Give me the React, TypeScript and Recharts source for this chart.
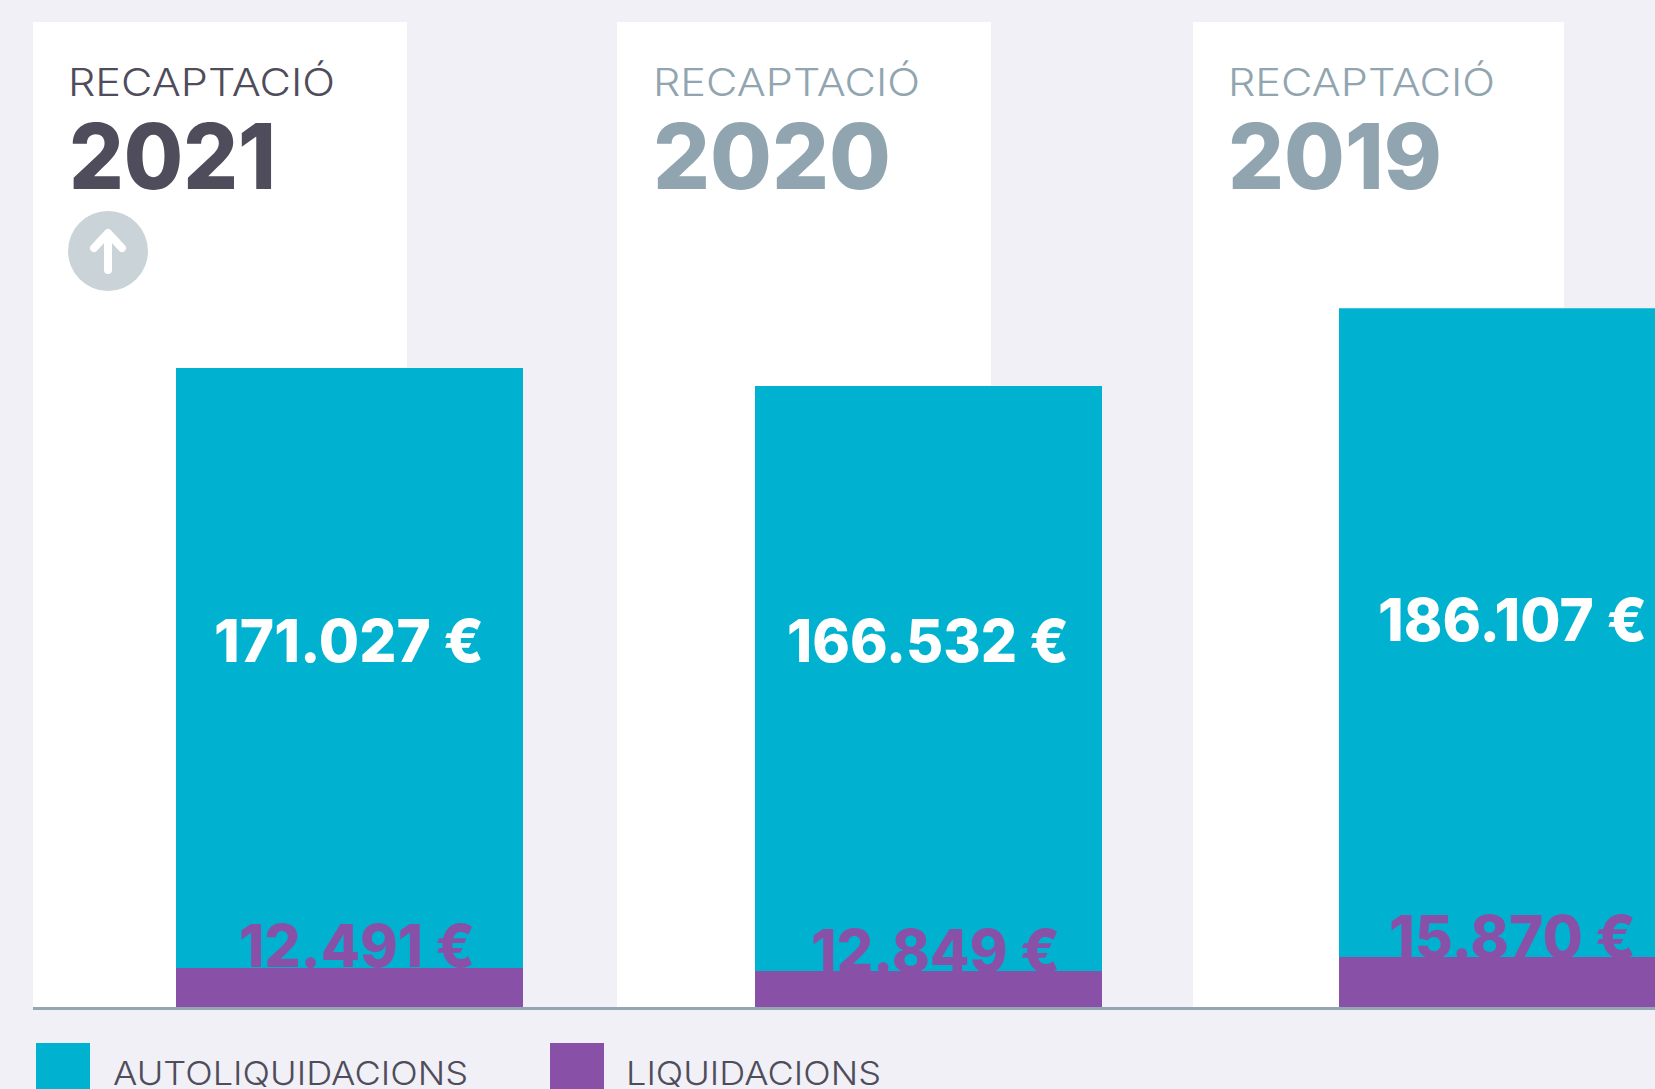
import { BarChart, Bar, XAxis, YAxis, LabelList } from "recharts"

const years = ["2021", "2020", "2019"]
// bar lengths; the printed figures don't quite follow them
const autoliquidacions = [170600, 165800, 186600]
const liquidacions = [10400, 9600, 13350]
const autoLabels = ["171.027 €", "166.532 €", "186.107 €"]
const liqLabels = ["12.491 €", "12.849 €", "15.870 €"]
const legendNames = ["AUTOLIQUIDACIONS", "LIQUIDACIONS"]
const panelTitle = "RECAPTACIÓ"

const BG = "#f0f0f6"
const CYAN = "#00b2cf"
const PURPLE = "#8950a8"
const DARK = "#4f4c5b"
const GREY = "#91a5b1"
const FONT = "Inter, sans-serif"

const CHART_TOP = 258
const CHART_H = 749
const BAR_W = 347

// pixel layout for each year block
const layout = [
  { panelX: 33, panelW: 374, barX: 176, titleX: 68, yearX: 69, yearW: 207, autoX: 214, autoW: 270, autoBase: 662, liqX: 239, liqW: 236, liqBase: 967 },
  { panelX: 617, panelW: 374, barX: 755, titleX: 653, yearX: 653, yearW: 238, autoX: 787, autoW: 282, autoBase: 662, liqX: 811, liqW: 249, liqBase: 972 },
  { panelX: 1193, panelW: 371, barX: 1339, titleX: 1228, yearX: 1228, yearW: 214, autoX: 1378, autoW: 269, autoBase: 641, liqX: 1389, liqW: 247, liqBase: 958 },
]

function YearChart({ index }: { index: number }) {
  const l = layout[index]
  const data = [{ year: years[index], auto: autoliquidacions[index], liq: liquidacions[index] }]

  const autoLabel = () => (
    <text
      x={l.autoX - l.barX}
      y={l.autoBase - CHART_TOP}
      fill="#fff"
      fontFamily={FONT}
      fontWeight={800}
      fontSize={59}
      textLength={l.autoW}
      lengthAdjust="spacingAndGlyphs"
    >
      {autoLabels[index]}
    </text>
  )

  const liqLabel = () => (
    <text
      x={l.liqX - l.barX}
      y={l.liqBase - CHART_TOP}
      fill={PURPLE}
      fontFamily={FONT}
      fontWeight={800}
      fontSize={59}
      textLength={l.liqW}
      lengthAdjust="spacingAndGlyphs"
    >
      {liqLabels[index]}
    </text>
  )

  return (
    <div style={{ position: "absolute", left: l.barX, top: CHART_TOP }}>
      <BarChart
        width={BAR_W}
        height={CHART_H}
        data={data}
        margin={{ top: 0, right: 0, bottom: 0, left: 0 }}
        barCategoryGap={0}
      >
        {/* one x axis per series so the two bars sit on top of each other */}
        <XAxis xAxisId="a" dataKey="year" hide />
        <XAxis xAxisId="b" dataKey="year" hide />
        <YAxis hide domain={[0, 200000]} />
        <Bar xAxisId="a" dataKey="auto" fill={CYAN} isAnimationActive={false}>
          <LabelList dataKey="auto" content={autoLabel} />
        </Bar>
        <Bar xAxisId="b" dataKey="liq" fill={PURPLE} isAnimationActive={false}>
          <LabelList dataKey="liq" content={liqLabel} />
        </Bar>
      </BarChart>
    </div>
  )
}

export default function App() {
  return (
    <div
      style={{
        position: "absolute",
        left: 0,
        top: 0,
        width: 1655,
        height: 1089,
        overflow: "hidden",
        background: BG,
      }}
    >
      {/* white panels */}
      {layout.map((l, i) => (
        <div
          key={i}
          style={{ position: "absolute", left: l.panelX, top: 22, width: l.panelW, height: 985, background: "#fff" }}
        />
      ))}

      {/* titles, arrow badge, legend */}
      <svg width={1655} height={1089} style={{ position: "absolute", left: 0, top: 0 }}>
        {layout.map((l, i) => {
          const color = i === 0 ? DARK : GREY
          return (
            <g key={i} fill={color} fontFamily={FONT}>
              <text x={l.titleX} y={96} fontSize={38} fontWeight={300} textLength={267} lengthAdjust="spacingAndGlyphs">
                {panelTitle}
              </text>
              <text x={l.yearX} y={189} fontSize={91} fontWeight={800} textLength={l.yearW} lengthAdjust="spacingAndGlyphs">
                {years[i]}
              </text>
            </g>
          )
        })}
        <circle cx={108} cy={251} r={40} fill="#c9d3d8" />
        <path
          d="M108 270 L108 234 M94 248 L108 233 L122 248"
          fill="none"
          stroke="#fff"
          strokeWidth={8}
          strokeLinecap="round"
          strokeLinejoin="round"
        />

        <rect x={33} y={1007} width={1622} height={3} fill="#94a6b4" />

        <rect x={36} y={1043} width={54} height={46} fill={CYAN} />
        <rect x={550} y={1043} width={54} height={46} fill={PURPLE} />
        <g fill={DARK} fontFamily={FONT} fontSize={33} fontWeight={300}>
          <text x={113} y={1085} textLength={355} lengthAdjust="spacingAndGlyphs">
            {legendNames[0]}
          </text>
          <text x={626} y={1085} textLength={255} lengthAdjust="spacingAndGlyphs">
            {legendNames[1]}
          </text>
        </g>
      </svg>

      {years.map((_, i) => (
        <YearChart key={i} index={i} />
      ))}
    </div>
  )
}
